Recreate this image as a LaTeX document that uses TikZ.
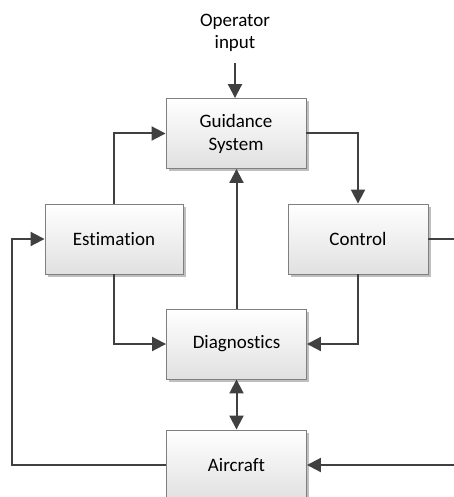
\documentclass[tikz,border=0pt]{standalone}
\usepackage{fontspec}
\setmainfont{Carlito}[Ligatures={NoCommon}]
\usetikzlibrary{arrows.meta,shadows,calc}
\definecolor{wire}{HTML}{404040}
\definecolor{frame}{HTML}{7F7F7F}
\tikzset{
  block/.style={draw=frame, line width=0.9pt, top color=white, bottom color=black!12,
    minimum width=140pt, minimum height=70pt, inner sep=0pt, align=center,
    font=\fontsize{19pt}{23pt}\selectfont,
    drop shadow={shadow xshift=2.5pt, shadow yshift=-2.5pt, opacity=0.25, fill=black}},
  wire/.style={draw=wire, line width=2pt, -{Triangle[length=14pt,width=14pt]}},
  plain/.style={draw=wire, line width=2pt},
  dbl/.style={draw=wire, line width=2pt, {Triangle[length=14pt,width=14pt]}-{Triangle[length=14pt,width=14pt]}},
  lbl/.style={align=center, font=\fontsize{19pt}{22pt}\selectfont, inner sep=0pt}
}
\begin{document}
\begin{tikzpicture}[x=1pt,y=-1pt]
  \useasboundingbox (0,0) rectangle (454,497);
  \begin{scope}
    \clip (0,0) rectangle (454,497);
    \node[block] (guid) at (236,133.5) {Guidance\\System};
    \node[block, minimum width=138pt] (est) at (114,239) {Estimation};
    \node[block] (ctrl) at (358,239) {Control};
    \node[block] (diag) at (236.5,344) {Diagnostics};
    \node[block] (air) at (236.5,465) {Aircraft};
    \node[lbl] (op) at (235,33) {Operator\\input};

    \coordinate (rin) at (454,239);
    \coordinate (rair) at (454,465);
    \coordinate (lft) at (12,465);
    \coordinate (lfttop) at (12,239);

    % operator command into guidance
    \draw[wire] (235,63) -- (guid.north -| 235,0);
    % estimation feeds guidance
    \draw[wire] (est.north) |- (guid.west);
    % guidance drives control
    \draw[wire] (guid.east) -| (ctrl.north);
    % diagnostics reports to guidance
    \draw[wire] (diag.north) -- (diag.north |- guid.south);
    % estimation and control feed diagnostics
    \draw[wire] (est.south) |- (diag.west);
    \draw[wire] (ctrl.south) |- (diag.east);
    % diagnostics <-> aircraft
    \draw[dbl] (diag.south) -- (air.north);
    % control output leaves to the right
    \draw[plain] (ctrl.east) -- (rin);
    % actuation back into aircraft
    \draw[wire] (rair) -- (air.east);
    % aircraft state back to estimation
    \draw[wire] (air.west) -- (lft) -- (lfttop) -- (est.west);
  \end{scope}
\end{tikzpicture}
\end{document}
